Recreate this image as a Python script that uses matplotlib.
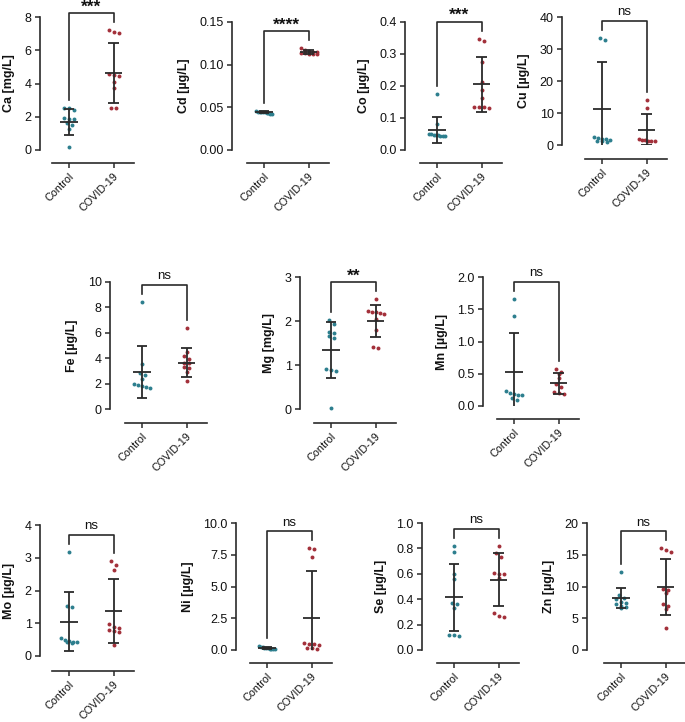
import matplotlib
matplotlib.use('Agg')
import matplotlib.pyplot as plt
import numpy as np
from matplotlib.ticker import MultipleLocator, FormatStrFormatter

plt.rcParams['font.family'] = ['Liberation Sans', 'DejaVu Sans']

# ---- data ----
groups = ['Control', 'COVID-19']
elements = ['Ca', 'Cd', 'Co', 'Cu', 'Fe', 'Mg', 'Mn', 'Mo', 'Ni', 'Se', 'Zn']
units = ['mg/L', 'µg/L', 'µg/L', 'µg/L', 'µg/L', 'mg/L', 'µg/L', 'µg/L', 'µg/L', 'µg/L', 'µg/L']
signif = ['***', '****', '***', 'ns', 'ns', '**', 'ns', 'ns', 'ns', 'ns', 'ns']

ca_ctrl = [2.55, 2.5, 2.42, 1.9, 1.88, 1.85, 1.6, 1.5, 1.27, 0.16]
ca_covid = [7.2, 7.1, 7.05, 4.55, 4.5, 4.45, 4.1, 3.7, 2.55, 2.5]
cd_ctrl = [0.046, 0.045, 0.045, 0.044, 0.044, 0.044, 0.043, 0.043, 0.042, 0.042]
cd_covid = [0.119, 0.117, 0.116, 0.115, 0.115, 0.114, 0.114, 0.113, 0.113, 0.112]
co_ctrl = [0.175, 0.08, 0.05, 0.048, 0.047, 0.046, 0.045, 0.045, 0.044, 0.05]
co_covid = [0.348, 0.34, 0.274, 0.214, 0.188, 0.162, 0.135, 0.133, 0.133, 0.132]
cu_ctrl = [33.5, 32.8, 2.6, 2.3, 2.0, 1.8, 1.5, 1.3, 1.2, 0.9]
cu_covid = [14.2, 11.6, 1.8, 1.6, 1.5, 1.4, 1.3, 1.2]
fe_ctrl = [8.45, 3.55, 2.85, 2.65, 2.35, 1.95, 1.9, 1.85, 1.75, 1.65]
fe_covid = [6.4, 4.5, 4.15, 3.9, 3.65, 3.6, 3.3, 3.25, 2.95, 2.2]
mg_ctrl = [2.02, 1.93, 1.75, 1.72, 1.65, 1.62, 0.9, 0.88, 0.87, 0.02]
mg_covid = [2.49, 2.22, 2.2, 2.2, 2.18, 2.15, 2.05, 1.8, 1.42, 1.38]
mn_ctrl = [1.66, 1.39, 0.23, 0.2, 0.18, 0.17, 0.17, 0.12, 0.1]
mn_covid = [0.57, 0.52, 0.5, 0.43, 0.34, 0.3, 0.22, 0.2, 0.18]
mo_ctrl = [3.18, 1.52, 1.5, 0.55, 0.5, 0.45, 0.44, 0.43, 0.42, 0.4]
mo_covid = [2.9, 2.78, 2.62, 0.97, 0.9, 0.85, 0.8, 0.75, 0.72, 0.33]
ni_ctrl = [0.3, 0.2, 0.2, 0.15, 0.15, 0.12, 0.1, 0.1, 0.08, 0.05]
ni_covid = [8.0, 7.95, 7.3, 0.55, 0.5, 0.45, 0.4, 0.15, 0.12, 0.1]
se_ctrl = [0.82, 0.77, 0.6, 0.56, 0.37, 0.36, 0.33, 0.12, 0.12, 0.11]
se_covid = [0.82, 0.76, 0.73, 0.61, 0.6, 0.6, 0.57, 0.29, 0.27, 0.26]
zn_ctrl = [12.3, 8.7, 8.2, 8.0, 7.5, 7.4, 7.3, 6.9, 6.7, 6.6]
zn_covid = [16.0, 15.7, 15.4, 9.6, 9.5, 8.9, 7.2, 7.0, 6.4, 3.4]

ctrl_data = [ca_ctrl, cd_ctrl, co_ctrl, cu_ctrl, fe_ctrl, mg_ctrl, mn_ctrl,
             mo_ctrl, ni_ctrl, se_ctrl, zn_ctrl]
covid_data = [ca_covid, cd_covid, co_covid, cu_covid, fe_covid, mg_covid, mn_covid,
              mo_covid, ni_covid, se_covid, zn_covid]

# mean and SD as shown by the error bars
mean_ctrl = [1.685, 0.044, 0.0635, 11.1, 2.895, 1.34, 0.525, 1.045, 0.14, 0.415, 8.15]
sd_ctrl = [0.755, 0.0012, 0.0405, 14.9, 2.055, 0.64, 0.605, 0.895, 0.07, 0.265, 1.55]
mean_covid = [4.645, 0.115, 0.206, 4.8, 3.655, 2.0, 0.35, 1.37, 2.55, 0.555, 9.9]
sd_covid = [1.8, 0.0025, 0.086, 4.9, 1.165, 0.36, 0.16, 0.97, 3.65, 0.21, 4.4]

# y axis: top value, tick step, tick format
y_top = [8, 0.15, 0.4, 40, 10, 3, 2.0, 4, 10.0, 1.0, 20]
y_step = [2, 0.05, 0.1, 10, 2, 1, 0.5, 1, 2.5, 0.2, 5]
y_fmt = ['%d', '%.2f', '%.1f', '%d', '%d', '%d', '%.1f', '%d', '%.1f', '%.1f', '%d']

# ---- layout (pixels): y-spine x, control x, top tick y, zero y, x-line y ----
layout = [
    (40, 69, 17, 150, 163), (232, 264, 22, 150, 163),
    (405, 437, 22, 150, 163), (562, 602, 17, 145, 159),
    (110, 142, 282, 409, 423), (300, 331, 277, 409, 423),
    (483, 514, 277, 406, 419),
    (40, 69, 525, 656, 671), (236, 267, 523, 650, 663),
    (422, 454, 523, 650, 663), (587, 621, 523, 650, 663),
]
W, H = 685, 722
U = 44.5  # pixels between the two groups
col_ctrl = '#2d7f8e'
col_covid = '#a3303a'
ink = '#2a2a2a'

fig = plt.figure(figsize=(W / 100, H / 100), dpi=100)


def swarm(vals, pxu):
    vals = sorted(vals, reverse=True)
    rows = []
    for v in vals:
        if rows and (rows[-1][0] - v) * pxu < 4:
            rows[-1].append(v)
        else:
            rows.append([v])
    xs, ys = [], []
    for r in rows:
        n = len(r)
        step = min(5.0, 16.0 / max(n - 1, 1)) / U
        for i, v in enumerate(r):
            xs.append((i - (n - 1) / 2) * step)
            ys.append(v)
    return np.array(xs), np.array(ys)


for k in range(len(elements)):
    sx, cx, ty, zy, xl = layout[k]
    left = sx / W
    right = (cx + 1.5 * U) / W
    ax = fig.add_axes([left, (H - zy) / H, right - left, (zy - ty) / H])
    ax.set_xlim((sx - cx) / U, 1.5)
    ax.set_ylim(0, y_top[k])
    pxu = (zy - ty) / y_top[k]

    for g, (vals, col, m, s) in enumerate([
            (ctrl_data[k], col_ctrl, mean_ctrl[k], sd_ctrl[k]),
            (covid_data[k], col_covid, mean_covid[k], sd_covid[k])]):
        dx, yy = swarm(vals, pxu)
        ax.scatter(g + dx, yy, s=8, color=col, linewidths=0, zorder=2, clip_on=False)
        ax.hlines(m, g - 0.2, g + 0.2, color=ink, lw=1.3, zorder=3)
        ax.vlines(g, m - s, m + s, color=ink, lw=1.3, zorder=3)
        ax.hlines([m - s, m + s], g - 0.12, g + 0.12, color=ink, lw=1.3, zorder=3)

    # significance bracket
    top = max(max(ctrl_data[k]), max(covid_data[k])) + 17 / pxu
    l0 = max(ctrl_data[k]) + 8 / pxu
    l1 = max(covid_data[k]) + 8 / pxu
    ax.plot([0, 0, 1, 1], [l0, top, top, l1], color=ink, lw=1.2, clip_on=False)
    if signif[k] == 'ns':
        ax.annotate('ns', xy=(0.5, top), xytext=(0, 4), textcoords='offset points',
                    ha='center', va='baseline', fontsize=9.5, color='#111',
                    annotation_clip=False)
    else:
        ax.annotate(signif[k], xy=(0.5, top), xytext=(0, 1.2), textcoords='offset points',
                    ha='center', va='baseline', fontsize=12.5, fontweight='bold', color='#111',
                    annotation_clip=False)

    for sp in ['top', 'right']:
        ax.spines[sp].set_visible(False)
    ax.spines['left'].set_color(ink)
    ax.spines['left'].set_linewidth(1.2)
    ax.spines['bottom'].set_color(ink)
    ax.spines['bottom'].set_linewidth(1.2)
    ax.spines['bottom'].set_position(('outward', (xl - zy) * 0.72))
    ax.spines['bottom'].set_bounds(-0.38, 1.45)

    ax.yaxis.set_major_locator(MultipleLocator(y_step[k]))
    ax.yaxis.set_major_formatter(FormatStrFormatter(y_fmt[k]))
    ax.set_xticks([0, 1])
    ax.set_xticklabels(groups, rotation=45, ha='right', rotation_mode='anchor')
    ax.tick_params(axis='both', colors=ink, labelcolor='#111',
                   length=3.5, width=1.1, direction='out')
    ax.tick_params(axis='y', labelsize=9, pad=2.5)
    ax.tick_params(axis='x', labelsize=7.8, pad=2.5)
    ax.set_ylabel(f'{elements[k]} [{units[k]}]', fontsize=9, fontweight='bold',
                  labelpad=7, color='#111')
    ax.patch.set_visible(False)

fig.savefig('out.png', dpi=100, facecolor='white')
